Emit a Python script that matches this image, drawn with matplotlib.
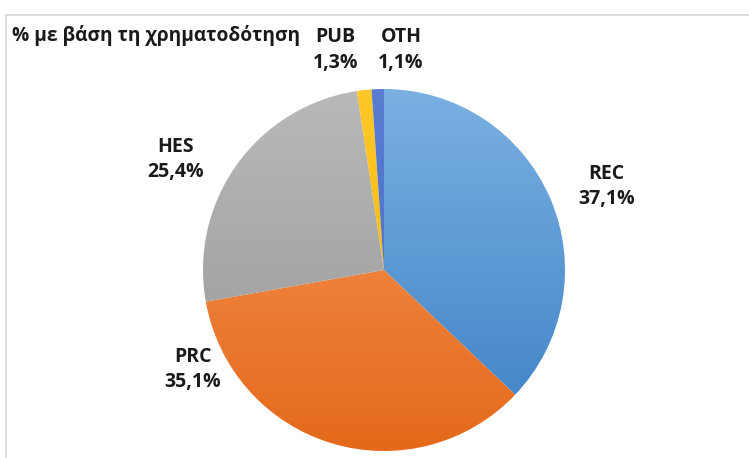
import numpy as np
import matplotlib
matplotlib.use("Agg")
import matplotlib.pyplot as plt
from matplotlib.colors import LinearSegmentedColormap
from matplotlib.lines import Line2D

# Data
categories = ['REC', 'PRC', 'HES', 'PUB', 'OTH']
shares = [37.1, 35.1, 25.4, 1.3, 1.1]
title = '% με βάση τη χρηματοδότηση'

# gradient colours per slice (top, bottom)
top_colors = ['#7ab0e2', '#f89a5c', '#b9b9b9', '#ffc828', '#5a7dd2']
bottom_colors = ['#3c80c4', '#e4691a', '#969696', '#f0af00', '#4469c4']

# label positions in pie-radius units (like Excel's best fit)
label_pos = [(1.23, 0.46), (-1.055, -0.55), (-1.15, 0.61), (-0.27, 1.215), (0.094, 1.215)]

plt.rcParams['font.family'] = ['Open Sans', 'DejaVu Sans']

W, H = 749, 458
fig = plt.figure(figsize=(W / 100, H / 100), dpi=100)

# axes placed so the pie sits where it does in the reference
cx, cy, r = 384, 270, 181
ax = fig.add_axes([(cx - r) / W, (H - cy - r) / H, 2 * r / W, 2 * r / H])

wedges, _ = ax.pie(shares, startangle=90, counterclock=False, radius=1,
                   wedgeprops=dict(linewidth=0), frame=False)
ax.set_xlim(-1, 1)
ax.set_ylim(-1, 1)
ax.set_aspect('equal')
ax.axis('off')

grad = np.linspace(0, 1, 256).reshape(-1, 1)
for w, c_top, c_bot in zip(wedges, top_colors, bottom_colors):
    w.set_facecolor('none')
    cmap = LinearSegmentedColormap.from_list('g', [c_top, c_bot])
    im = ax.imshow(grad, cmap=cmap, extent=(-1, 1, -1, 1), origin='upper',
                   aspect='auto', interpolation='bicubic')
    im.set_clip_path(w)

for cat, val, (lx, ly) in zip(categories, shares, label_pos):
    txt = f'{cat}\n{val:.1f}%'.replace('.', ',')
    ax.text(lx, ly, txt, ha='center', va='center', fontsize=14,
            fontweight='bold', color='#1a1a1a', linespacing=1.35, clip_on=False)

fig.text(12 / W, 1 - 36 / H, title, ha='left', va='center', fontsize=13.8,
         fontweight='bold', color='#1a1a1a')

# light frame lines (top and left) as in the reference
fig.add_artist(Line2D([6 / W, 1], [1 - 15 / H, 1 - 15 / H], transform=fig.transFigure,
                      color='#d9dee4', linewidth=1.5))
fig.add_artist(Line2D([6 / W, 6 / W], [1 - 15 / H, 0], transform=fig.transFigure,
                      color='#d9dee4', linewidth=1.5))

fig.savefig('out.png', dpi=100)
